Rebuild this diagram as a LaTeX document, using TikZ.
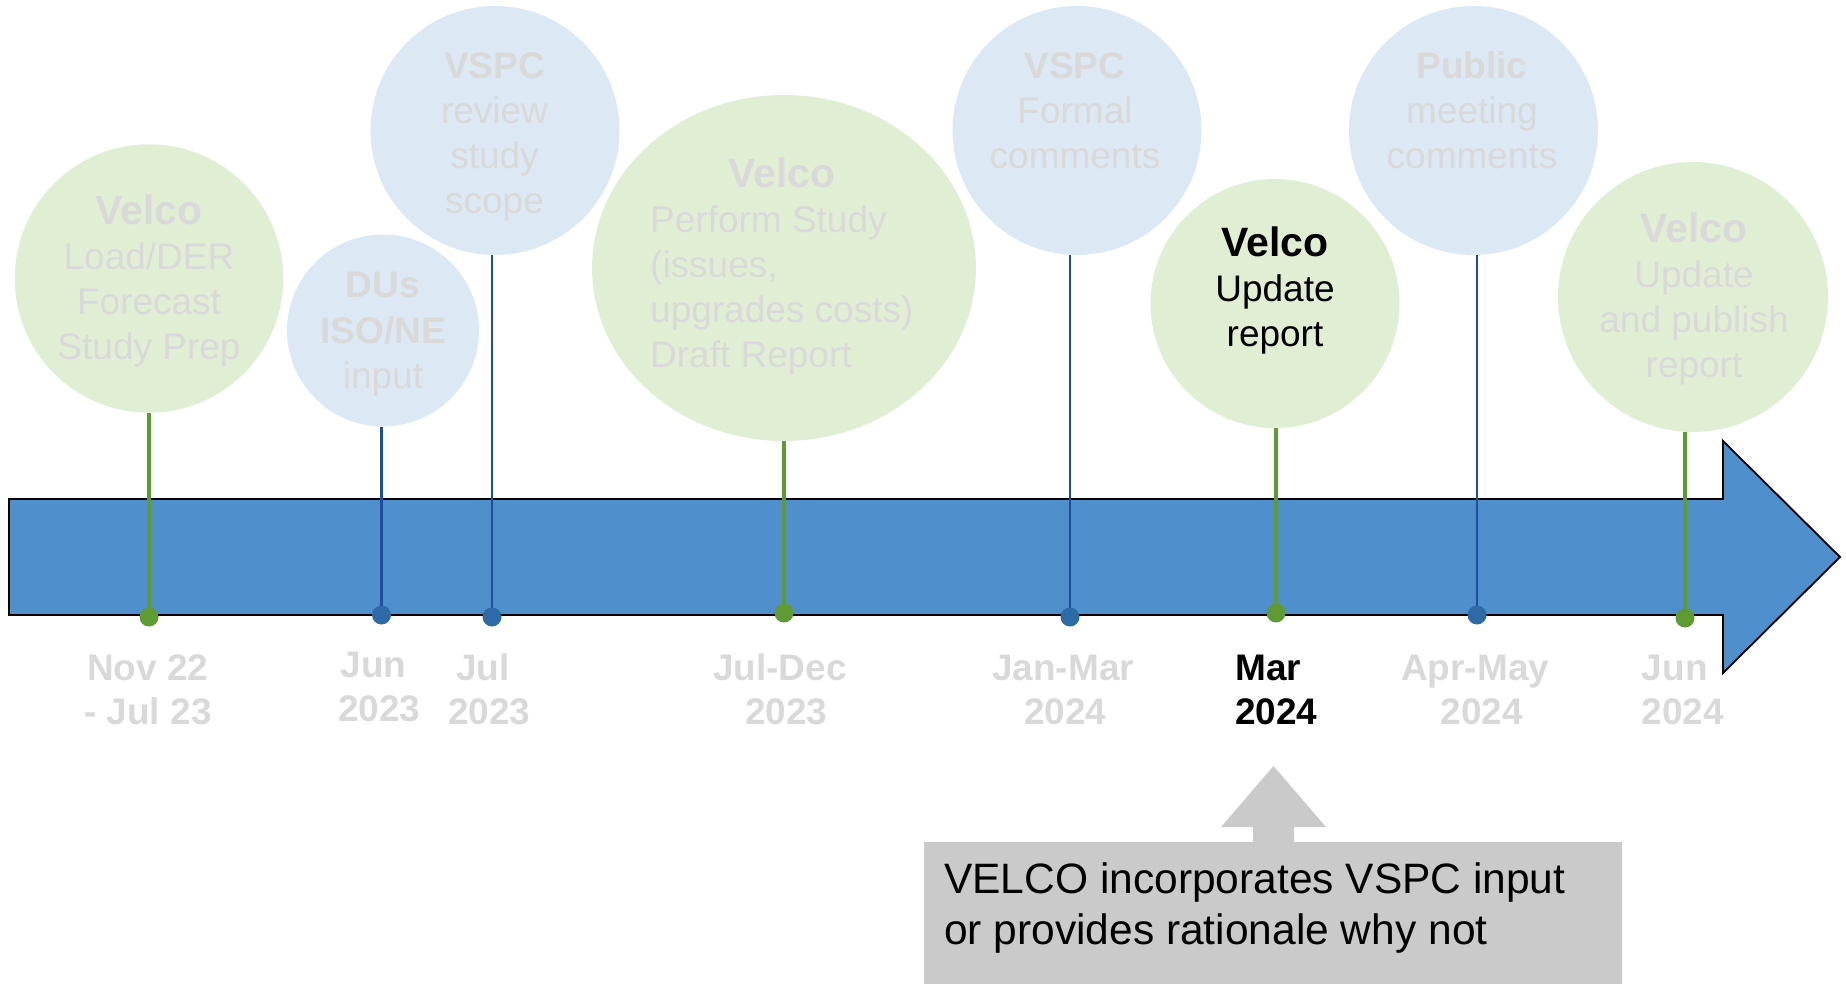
\documentclass[tikz,border=0pt]{standalone}
\usepackage{fontspec}
\setmainfont{Liberation Sans}
\usetikzlibrary{shapes.geometric}
\definecolor{gfillc}{HTML}{E0EFD4}
\definecolor{bfillc}{HTML}{DCE8F4}
\definecolor{arrowc}{HTML}{4F90CC}
\definecolor{glinec}{HTML}{5F9A32}
\definecolor{blinec}{HTML}{1F4E9B}
\definecolor{bdotc}{HTML}{2F6AA8}
\definecolor{fadec}{HTML}{D9D9D9}
\definecolor{calloutc}{HTML}{CACACA}
\newcommand{\ctab}[1]{\begin{tabular}[t]{@{}c@{}}#1\end{tabular}}
\newcommand{\ltab}[1]{\begin{tabular}[t]{@{}l@{}}#1\end{tabular}}
\newcommand{\vel}{{\fontsize{41}{45}\selectfont\bfseries Velco}}
\begin{document}
\begin{tikzpicture}[x=1pt,y=-1pt,
  gcirc/.style={circle,fill=gfillc,draw=none,inner sep=0},
  bcirc/.style={circle,fill=bfillc,draw=none,inner sep=0},
  ctxt/.style={inner sep=0,anchor=base,text=fadec,font=\fontsize{37}{45}\selectfont},
  ltxt/.style={inner sep=0,anchor=base west,text=fadec,font=\fontsize{37}{45}\selectfont},
  datetxt/.style={inner sep=0,anchor=base west,text=fadec,font=\fontsize{37}{44.5}\selectfont\bfseries},
  gstem/.style={draw=glinec,line width=4},
  bstem/.style={draw=blinec,line width=2.6},
  gdot/.style={circle,fill=glinec,inner sep=0,minimum size=19},
  bdot/.style={circle,fill=bdotc,inner sep=0,minimum size=19}]
\useasboundingbox (0,0) rectangle (1846,984);

% circles
\node[gcirc,minimum size=268.5] (c1) at (149,278.5) {};
\node[bcirc,minimum size=192] (c2) at (383,330.5) {};
\node[bcirc,minimum size=249] (c3) at (495,130.5) {};
\node[gcirc,ellipse,minimum width=384,minimum height=346] (c4) at (784,268) {};
\node[bcirc,minimum size=249] (c5) at (1077,130.5) {};
\node[gcirc,minimum size=249] (c6) at (1275,303.5) {};
\node[bcirc,minimum size=249] (c7) at (1473.5,130.5) {};
\node[gcirc,minimum size=270] (c8) at (1693,297) {};

% timeline arrow
\path[fill=arrowc,draw=black,line width=1.8,line join=miter]
  (9,499) -- (1723,499) -- (1723,441) -- (1840,557) -- (1723,673)
  -- (1723,615) -- (9,615) -- cycle;

% stem positions
\coordinate (p1) at (149,617);
\coordinate (p2) at (381.5,615);
\coordinate (p3) at (492,617);
\coordinate (p4) at (784,613);
\coordinate (p5) at (1070,617);
\coordinate (p6) at (1276,613);
\coordinate (p7) at (1477,615);
\coordinate (p8) at (1685,618);

\draw[gstem] (p1) -- (p1 |- c1.south);
\draw[bstem] (p2) -- (p2 |- c2.south);
\draw[bstem] (p3) -- (p3 |- c3.south);
\draw[gstem] (p4) -- (p4 |- c4.south);
\draw[bstem] (p5) -- (p5 |- c5.south);
\draw[gstem] (p6) -- (p6 |- c6.south);
\draw[bstem] (p7) -- (p7 |- c7.south);
\draw[gstem] (p8) -- (p8 |- c8.south);

\node[gdot] (d1) at (p1) {};
\node[bdot] (d2) at (p2) {};
\node[bdot] (d3) at (p3) {};
\node[gdot] (d4) at (p4) {};
\node[bdot] (d5) at (p5) {};
\node[gdot] (d6) at (p6) {};
\node[bdot] (d7) at (p7) {};
\node[gdot] (d8) at (p8) {};

% circle texts
\node[ctxt] (t1) at (149,225) {\ctab{\vel\\Load/DER\\Forecast\\Study Prep}};
\node[ctxt] (t2) at (383,298) {\ctab{\textbf{DUs}\\\textbf{ISO/NE}\\input}};
\node[ctxt] (t3) at (494.5,79) {\ctab{\textbf{VSPC}\\review\\study\\scope}};
\node[ltxt] (t4) at (650,188) {\ltab{\multicolumn{1}{@{}c@{}}{\vel}\\Perform Study\\(issues,\\upgrades costs)\\Draft Report}};
\node[ctxt] (t5) at (1075,79) {\ctab{\textbf{VSPC}\\Formal\\comments}};
\node[ctxt,text=black] (t6) at (1275,256.7) {\ctab{\vel\\Update\\report}};
\node[ctxt] (t7) at (1472,79) {\ctab{\textbf{Public}\\meeting\\comments}};
\node[ctxt] (t8) at (1694,242.7) {\ctab{\vel\\Update\\and publish\\report}};

% dates
\node[datetxt] (l1) at (84,680) {\ltab{\hspace*{3pt}Nov 22\\- Jul 23}};
\node[datetxt] (l2) at (338,677) {\ltab{\hspace*{2.6pt}Jun\\2023}};
\node[datetxt] (l3) at (448,680) {\ltab{\hspace*{8pt}Jul\\2023}};
\node[datetxt] (l4) at (713,680) {\ltab{Jul-Dec\\\hspace*{32pt}2023}};
\node[datetxt] (l5) at (992,680) {\ltab{Jan-Mar\\\hspace*{32pt}2024}};
\node[datetxt,text=black] (l6) at (1235,680) {\ltab{Mar\\2024}};
\node[datetxt] (l7) at (1401,680) {\ltab{Apr-May\\\hspace*{39.5pt}2024}};
\node[datetxt] (l8) at (1641.6,680) {\ltab{Jun\\2024}};

% callout
\fill[calloutc] (924,842) -- (1253,842) -- (1253,827) -- (1221,827) -- (1273.5,766)
  -- (1326,827) -- (1294,827) -- (1294,842) -- (1622,842) -- (1622,984)
  -- (924,984) -- cycle;
\node[inner sep=0,anchor=base west,font=\fontsize{42.5}{51}\selectfont] (note) at (944,893)
  {\ltab{VELCO incorporates VSPC input\\or provides rationale why not}};
\end{tikzpicture}
\end{document}
